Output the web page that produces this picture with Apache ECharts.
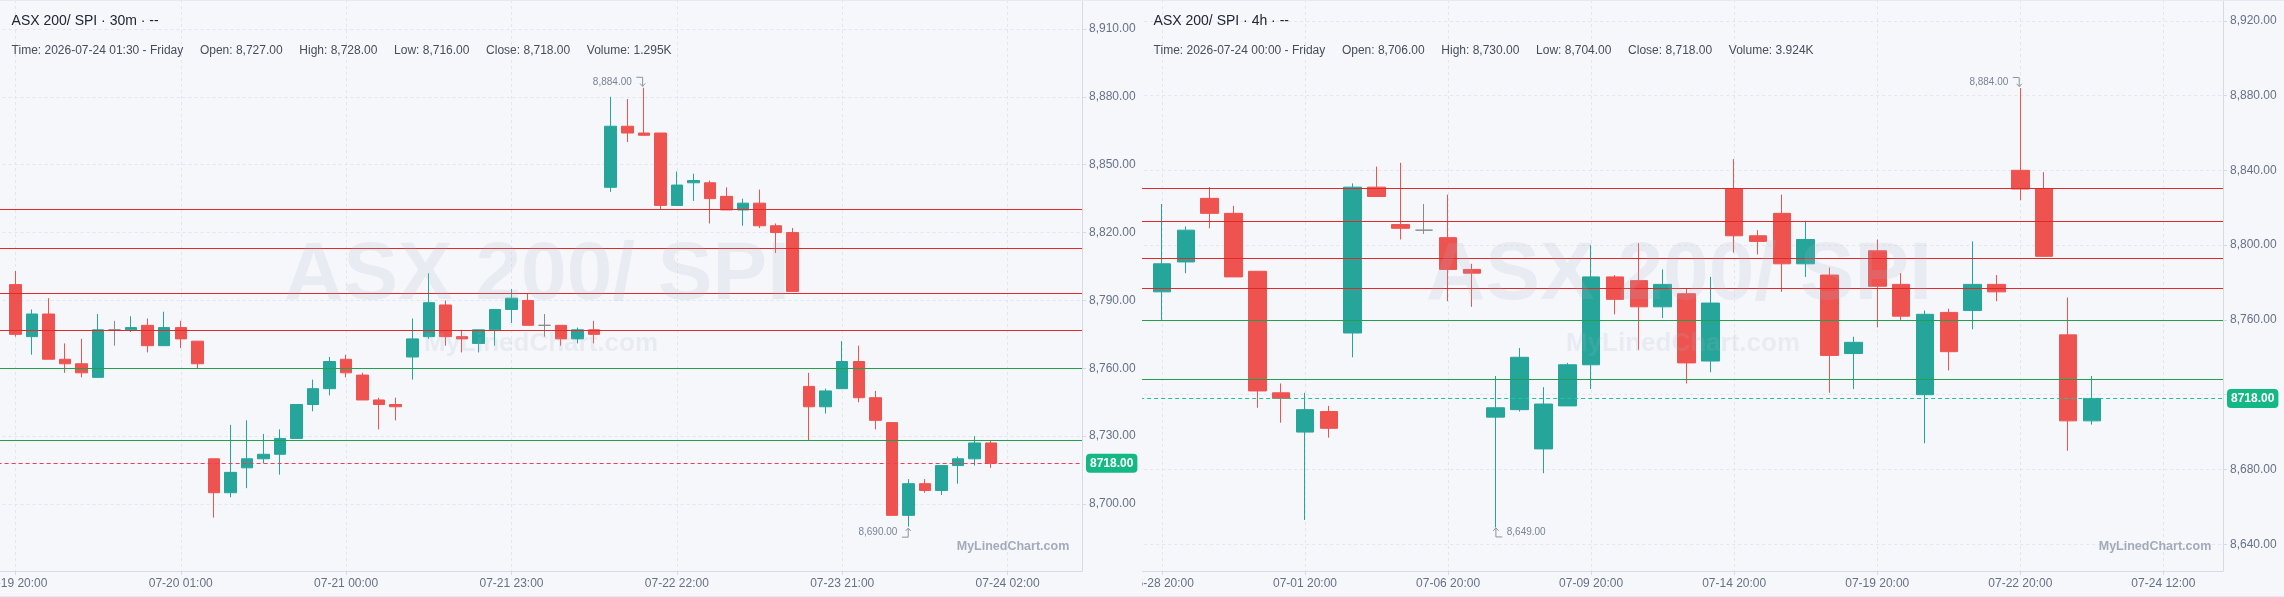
<!DOCTYPE html>
<html>
<head>
<meta charset="utf-8" />
<title>ASX 200/ SPI</title>
<script src="https://cdn.jsdelivr.net/npm/echarts@6.0.0/dist/echarts.min.js"></script>
<style>
  html, body { margin: 0; padding: 0; background: #f5f7fb; }
  #wrap { position: relative; width: 2284px; height: 597px; overflow: hidden; }
  #left { position: absolute; left: 0; top: 0; width: 1142px; height: 597px; }
  #right { position: absolute; left: 1142px; top: 0; width: 1142px; height: 597px; }
</style>
</head>
<body>
<div id="wrap">
  <div id="left"></div>
  <div id="right"></div>
</div>
<script>
// 30m chart: 5 sessions (20:00 - 01:30), first slot is an empty pad
var timeL = ['',
  '07-19 20:00', '07-19 20:30', '07-19 21:00', '07-19 21:30', '07-19 22:00', '07-19 22:30',
  '07-19 23:00', '07-19 23:30', '07-20 00:00', '07-20 00:30', '07-20 01:00', '07-20 01:30',
  '07-20 20:00', '07-20 20:30', '07-20 21:00', '07-20 21:30', '07-20 22:00', '07-20 22:30',
  '07-20 23:00', '07-20 23:30', '07-21 00:00', '07-21 00:30', '07-21 01:00', '07-21 01:30',
  '07-21 20:00', '07-21 20:30', '07-21 21:00', '07-21 21:30', '07-21 22:00', '07-21 22:30',
  '07-21 23:00', '07-21 23:30', '07-22 00:00', '07-22 00:30', '07-22 01:00', '07-22 01:30',
  '07-22 20:00', '07-22 20:30', '07-22 21:00', '07-22 21:30', '07-22 22:00', '07-22 22:30',
  '07-22 23:00', '07-22 23:30', '07-23 00:00', '07-23 00:30', '07-23 01:00', '07-23 01:30',
  '07-23 20:00', '07-23 20:30', '07-23 21:00', '07-23 21:30', '07-23 22:00', '07-23 22:30',
  '07-23 23:00', '07-23 23:30', '07-24 00:00', '07-24 00:30', '07-24 01:00', '07-24 01:30',
  '07-24 02:00', '07-24 02:30', '07-24 03:00', '07-24 03:30', '07-24 04:00'];
var openL = [8797, 8774, 8784, 8764, 8762, 8756, 8777, 8777, 8779, 8770, 8778, 8772,
  8720, 8705, 8716, 8720, 8722, 8729, 8744, 8751, 8764, 8757, 8746, 8744,
  8765, 8774, 8788, 8774, 8771, 8777, 8786, 8790, 8779, 8779, 8773, 8777,
  8840, 8867, 8864, 8864, 8832, 8842, 8842, 8836, 8830, 8833, 8823, 8820,
  8752, 8743, 8751, 8763, 8747, 8736, 8695, 8709, 8706, 8717, 8720, 8727];
var closeL = [8775, 8784, 8764, 8762, 8758, 8777, 8777, 8778, 8770, 8778, 8773, 8762,
  8705, 8714, 8720, 8722, 8729, 8744, 8751, 8763, 8758, 8746, 8744, 8743,
  8773, 8789, 8774, 8773, 8777, 8786, 8791, 8779, 8779, 8773, 8777, 8775,
  8867, 8864, 8863, 8832, 8841, 8843, 8835, 8830, 8833, 8823, 8820, 8794,
  8743, 8750, 8763, 8747, 8737, 8695, 8709, 8706, 8717, 8720, 8727, 8718];
var lowL = [8774, 8766, 8764, 8758, 8756, 8756, 8770, 8776, 8767, 8770, 8769, 8760,
  8694, 8703, 8707, 8718, 8713, 8729, 8741, 8748, 8756, 8746, 8733, 8737,
  8755, 8773, 8770, 8767, 8767, 8770, 8780, 8779, 8774, 8770, 8771, 8771,
  8838, 8860, 8863, 8830, 8832, 8834, 8824, 8830, 8823, 8822, 8811, 8794,
  8728, 8740, 8751, 8745, 8733, 8695, 8690, 8705, 8704, 8709, 8717, 8716];
var highL = [8803, 8786, 8791, 8771, 8773, 8784, 8781, 8783, 8782, 8785, 8781, 8772,
  8720, 8735, 8737, 8731, 8733, 8744, 8755, 8765, 8766, 8758, 8747, 8747,
  8782, 8802, 8790, 8777, 8777, 8786, 8795, 8793, 8784, 8779, 8778, 8781,
  8880, 8879, 8884, 8864, 8847, 8846, 8843, 8840, 8835, 8839, 8824, 8822,
  8758, 8751, 8772, 8770, 8750, 8736, 8711, 8711, 8717, 8721, 8730, 8728];
var yTicksL = [8700, 8730, 8760, 8790, 8820, 8850, 8880, 8910];

// 4h chart: two candles per session, first slot is an empty pad
var timeR = ['',
  '06-28 20:00', '06-29 00:00', '06-29 20:00', '06-30 00:00', '06-30 20:00', '07-01 00:00',
  '07-01 20:00', '07-02 00:00', '07-02 20:00', '07-03 00:00', '07-05 20:00', '07-06 00:00',
  '07-06 20:00', '07-07 00:00', '07-07 20:00', '07-08 00:00', '07-08 20:00', '07-09 00:00',
  '07-09 20:00', '07-10 00:00', '07-12 20:00', '07-13 00:00', '07-13 20:00', '07-14 00:00',
  '07-14 20:00', '07-15 00:00', '07-15 20:00', '07-16 00:00', '07-16 20:00', '07-17 00:00',
  '07-19 20:00', '07-20 00:00', '07-20 20:00', '07-21 00:00', '07-21 20:00', '07-22 00:00',
  '07-22 20:00', '07-23 00:00', '07-23 20:00', '07-24 00:00',
  '07-24 04:00', '07-24 08:00', '07-24 12:00', '07-24 16:00', '07-24 20:00'];
var openR = [8775, 8791, 8825, 8817, 8786, 8721, 8700, 8711, 8753, 8831, 8811, 8808, 8804, 8787,
  8708, 8712, 8691, 8714, 8736, 8783, 8781, 8767, 8774, 8738, 8830, 8805, 8817, 8790, 8784, 8742,
  8797, 8779, 8720, 8764, 8765, 8779, 8840, 8830, 8752, 8706];
var closeR = [8790, 8808, 8817, 8783, 8722, 8718, 8712, 8702, 8831, 8826, 8809, 8808, 8787, 8785,
  8713, 8740, 8715, 8736, 8783, 8771, 8767, 8779, 8737, 8769, 8805, 8802, 8790, 8803, 8741, 8748,
  8778, 8762, 8763, 8743, 8779, 8775, 8830, 8794, 8706, 8718];
var lowR = [8760, 8785, 8809, 8783, 8713, 8705, 8653, 8697, 8740, 8826, 8803, 8806, 8770, 8767,
  8649, 8711, 8678, 8714, 8723, 8763, 8744, 8761, 8726, 8732, 8796, 8795, 8775, 8783, 8721, 8723,
  8756, 8760, 8694, 8733, 8755, 8770, 8824, 8794, 8690, 8704];
var highR = [8822, 8810, 8831, 8821, 8786, 8726, 8721, 8714, 8833, 8842, 8844, 8822, 8827, 8790,
  8730, 8745, 8724, 8737, 8800, 8784, 8801, 8787, 8777, 8783, 8846, 8808, 8827, 8813, 8788, 8751,
  8803, 8785, 8765, 8766, 8802, 8784, 8884, 8839, 8772, 8730];
var yTicksR = [8640, 8680, 8720, 8760, 8800, 8840, 8880, 8920];

// support / resistance levels drawn on both charts
var levelsRed = [8830.5, 8813, 8793, 8777];
var levelsGreen = [8760, 8728];
var lastPrice = 8718;

var FONT = '"Liberation Sans", Arial, Helvetica, sans-serif';
var UP = '#26a69a', DOWN = '#ef5350';
var AXIS = '#d6dae1', GRIDLINE = '#e3e6ed', LABEL = '#677186';
var FAINT = 'rgba(170,178,196,0.16)';
var MAX_ARROW = 'path://M0,1L6,1L6,9M3.5,6.5L6,9L8.5,6.5';
var MIN_ARROW_L = 'path://M0,8L6,8L6,0M3.5,2.5L6,0L8.5,2.5';
var MIN_ARROW_R = 'path://M2.5,0L2.5,8L8.5,8M0,2.5L2.5,0L5,2.5';

function fmt(v) {
  return Number(v).toLocaleString('en-US', { minimumFractionDigits: 2, maximumFractionDigits: 2 });
}

function txt(x, y, text, font, fill, align, z) {
  return {
    type: 'text', x: x, y: y, z: z || 10, silent: true,
    style: {
      text: text, font: font, fill: fill,
      align: align || 'left', verticalAlign: 'middle',
      textAlign: align || 'left', textVerticalAlign: 'middle'
    }
  };
}

function buildOption(c) {
  var candles = c.open.map(function (o, i) {
    return [i + 1, o, c.close[i], c.low[i], c.high[i]];
  });
  var hi = Math.max.apply(null, c.high);
  var lo = Math.min.apply(null, c.low);
  var hiIdx = c.high.indexOf(hi) + 1;
  var loIdx = c.low.indexOf(lo) + 1;
  var every = function (idx) { return idx >= 1 && (idx - 1) % c.step === 0; };

  var lines = [];
  levelsRed.forEach(function (v) { lines.push({ yAxis: v, lineStyle: { color: '#e02a2a' } }); });
  levelsGreen.forEach(function (v) { lines.push({ yAxis: v, lineStyle: { color: '#22a04f' } }); });
  lines.push({
    yAxis: lastPrice,
    lineStyle: { color: c.dashColor, type: [4, 3], width: 1.2 },
    label: {
      show: true, position: 'end', distance: 4,
      formatter: lastPrice.toFixed(2),
      backgroundColor: '#14b883', color: '#fff', fontWeight: 'bold',
      fontSize: 12, fontFamily: FONT, padding: [4, 4, 3, 4], borderRadius: 4
    }
  });

  return {
    animation: false,
    grid: { left: c.gridLeft, right: c.gridRight, top: 0, bottom: 26, outerBoundsMode: 'none' },
    xAxis: {
      type: 'category',
      data: c.times,
      boundaryGap: true,
      axisLine: { lineStyle: { color: AXIS } },
      axisTick: { show: true, length: 4, alignWithLabel: true, interval: every, lineStyle: { color: AXIS } },
      axisLabel: { interval: every, color: LABEL, fontSize: 12, fontFamily: FONT, margin: 7 },
      splitLine: { show: true, interval: every, alignWithLabel: true, lineStyle: { color: GRIDLINE, type: [3, 3] } }
    },
    yAxis: {
      type: 'value',
      position: 'right',
      min: c.yMin,
      max: c.yMax,
      axisLine: { show: true, lineStyle: { color: AXIS } },
      axisTick: { show: true, length: 4, customValues: c.yTicks, lineStyle: { color: AXIS } },
      axisLabel: { customValues: c.yTicks, formatter: fmt, color: LABEL, fontSize: 12, fontFamily: FONT, margin: 7 },
      splitLine: { show: true, lineStyle: { color: GRIDLINE, type: [3, 3] } }
    },
    series: [{
      type: 'candlestick',
      data: candles,
      encode: { x: 0, y: [1, 2, 3, 4] },
      barWidth: c.barWidth,
      emphasis: { disabled: true },
      itemStyle: {
        color: UP, color0: DOWN, borderColor: UP, borderColor0: DOWN,
        borderColorDoji: '#8a8a8a', borderWidth: 1
      },
      markLine: {
        silent: true, symbol: ['none', 'none'], animation: false,
        label: { show: false },
        lineStyle: { width: 1.2, type: 'solid' },
        emphasis: { disabled: true },
        data: lines
      },
      markPoint: {
        silent: true, animation: false,
        itemStyle: { color: 'rgba(0,0,0,0)', borderColor: '#8a93a3', borderWidth: 1 },
        label: { show: true, color: '#7b8496', fontSize: 10, fontFamily: FONT, formatter: function (p) { return fmt(p.value); } },
        data: [
          { coord: [hiIdx, hi], value: hi, symbol: MAX_ARROW, symbolSize: [9, 9], symbolOffset: [-3, -6],
            label: { position: 'left', distance: 4 } },
          { coord: [loIdx, lo], value: lo, symbol: c.minArrow, symbolSize: [9, 9], symbolOffset: c.minOffset,
            label: { position: c.minLabelPos, distance: 4 } }
        ]
      }
    }],
    graphic: [
      { type: 'rect', silent: true, z: 1, shape: { x: 0, y: 0, width: 1142, height: 1 }, style: { fill: '#e6e9ef' } },
      { type: 'rect', silent: true, z: 1, shape: { x: 0, y: 596, width: 1142, height: 1 }, style: { fill: '#e6e9ef' } },
      txt(11.6, 21.4, c.title, '14px ' + FONT, '#222631'),
      txt(11.6, 51, c.info, '12px ' + FONT, '#474d5a'),
      txt(537, 276, 'ASX 200/ SPI', 'bold 82px ' + FONT, FAINT, 'center', 100),
      txt(541, 344, 'MyLinedChart.com', 'bold 26px ' + FONT, FAINT, 'center', 100),
      txt(1013, 547, 'MyLinedChart.com', 'bold 12.5px ' + FONT, '#a3abba', 'center', 100)
    ]
  };
}

var gap = '     ';
var leftChart = echarts.init(document.getElementById('left'));
leftChart.setOption(buildOption({
  times: timeL, open: openL, close: closeL, low: lowL, high: highL,
  step: 10, gridLeft: -9.4, gridRight: 60, yMin: 8670.4, yMax: 8922.8, yTicks: yTicksL,
  barWidth: 12, dashColor: '#f23a5a',
  minArrow: MIN_ARROW_L, minOffset: [-2, 6], minLabelPos: 'left',
  title: 'ASX 200/ SPI \u00b7 30m \u00b7 --',
  info: ['Time: 2026-07-24 01:30 - Friday', 'Open: 8,727.00', 'High: 8,728.00',
    'Low: 8,716.00', 'Close: 8,718.00', 'Volume: 1.295K'].join(gap)
}));

var rightChart = echarts.init(document.getElementById('right'));
rightChart.setOption(buildOption({
  times: timeR, open: openR, close: closeR, low: lowR, high: highR,
  step: 6, gridLeft: -15.84, gridRight: 61, yMin: 8625.7, yMax: 8931.1, yTicks: yTicksR,
  barWidth: 18, dashColor: '#22c39a',
  minArrow: MIN_ARROW_R, minOffset: [2, 5], minLabelPos: 'right',
  title: 'ASX 200/ SPI \u00b7 4h \u00b7 --',
  info: ['Time: 2026-07-24 00:00 - Friday', 'Open: 8,706.00', 'High: 8,730.00',
    'Low: 8,704.00', 'Close: 8,718.00', 'Volume: 3.924K'].join(gap)
}));
</script>
</body>
</html>
